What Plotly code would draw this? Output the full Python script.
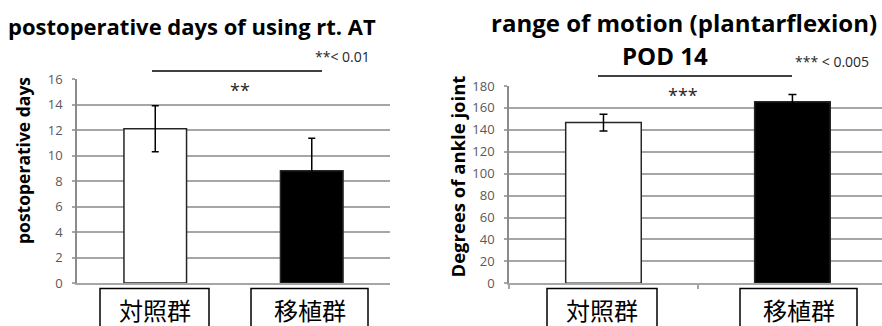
import plotly.graph_objects as go

# Group labels
groups = ["対照群", "移植群"]

# Postoperative days of using rt. AT (mean, SD)
days_mean = [12.1, 8.8]
days_sd = [1.8, 2.55]

# Range of motion (plantarflexion) at POD 14 (mean, SD)
rom_mean = [146.6, 165.7]
rom_sd = [7.7, 6.6]

bar_colors = ["white", "black"]
FONT = "Open Sans"
GRID = "#a6a6a6"
TICKFONT = dict(family=FONT, size=13, color="#595959")

W, H = 882, 326


def px(x):
    return x / W


def py(y):
    return 1 - y / H


fig = go.Figure()

fig.add_trace(go.Bar(
    x=[0, 1], y=days_mean, xaxis="x", yaxis="y",
    marker=dict(color=bar_colors, line=dict(color="#262626", width=1.5)),
    error_y=dict(type="data", array=days_sd, color="black", thickness=1.5, width=3.5),
    width=0.4, showlegend=False,
))
fig.add_trace(go.Bar(
    x=[0, 1], y=rom_mean, xaxis="x2", yaxis="y2",
    marker=dict(color=bar_colors, line=dict(color="#262626", width=1.5)),
    error_y=dict(type="data", array=rom_sd, color="black", thickness=1.5, width=4),
    width=0.4, showlegend=False,
))

common_x = dict(showgrid=False, showticklabels=False, zeroline=False,
                showline=True, linecolor=GRID, linewidth=1.5)
common_y = dict(showgrid=True, gridcolor=GRID, gridwidth=1.5, zeroline=False,
                showline=True, linecolor="#8c8c8c", linewidth=1.5,
                ticks="outside", ticklen=3, tickcolor=GRID, tickwidth=1.5,
                ticklabelstandoff=7, tickfont=TICKFONT)

fig.update_layout(
    width=W, height=H,
    margin=dict(l=0, r=0, t=0, b=0, autoexpand=False),
    paper_bgcolor="white", plot_bgcolor="white",
    font=dict(family=FONT, color="black"),
    xaxis=dict(domain=[px(77), px(390)], range=[-0.5, 1.5], anchor="y", **common_x),
    yaxis=dict(domain=[py(283), py(79)], range=[0, 16], dtick=2, anchor="x", **common_y),
    xaxis2=dict(domain=[px(509), 1.0], range=[-0.5, 1.474], anchor="y2",
                ticks="outside", ticklen=4, tickcolor=GRID, tickwidth=1.5,
                tickmode="array", tickvals=[-0.5, 0.5], **common_x),
    yaxis2=dict(domain=[py(283.3), py(86)], range=[0, 180], dtick=20, anchor="x2", **common_y),
)


def note(text, x, y, size, color="black", family=FONT, **kw):
    return dict(text=text, xref="paper", yref="paper", x=px(x), y=py(y),
                xanchor="center", yanchor="middle", showarrow=False,
                font=dict(size=size, family=family, color=color), **kw)


ann = [
    # Titles
    note("<b>postoperative days of using rt. AT</b>", 192, 26, 22),
    note("<b>range of motion (plantarflexion)</b>", 684, 22, 24),
    note("<b>POD 14</b>", 665, 55, 24),
    # Axis titles
    note("<b>postoperative days</b>", 23, 161, 17.5, textangle=-90),
    note("<b>Degrees of ankle joint</b>", 457, 176.5, 18.5, textangle=-90),
    # Significance notes
    note("**< 0.01", 342, 56, 14, color="#262626"),
    note("**", 240, 90, 18, color="#262626"),
    note("*** < 0.005", 832, 61, 14, color="#262626"),
    note("***", 683, 95, 18, color="#262626"),
]

# Group names, centred in their boxes
box_spans = [((100, 209), (251, 368)), ((547, 657), (740, 857))]
for spans in box_spans:
    for g, (x0, x1) in zip(groups, spans):
        ann.append(note(g, (x0 + x1) / 2, 309, 24, family="Noto Sans CJK JP"))
        fig.add_shape(type="rect", xref="paper", yref="paper",
                      x0=px(x0), x1=px(x1), y0=py(340), y1=py(288.5),
                      line=dict(color="black", width=1.5), fillcolor="rgba(0,0,0,0)")

fig.update_layout(annotations=ann)

# Significance brackets
fig.add_shape(type="line", xref="paper", yref="paper", x0=px(152), x1=px(322),
              y0=py(71), y1=py(71), line=dict(color="#404040", width=2))
fig.add_shape(type="line", xref="paper", yref="paper", x0=px(598), x1=px(792),
              y0=py(76), y1=py(76), line=dict(color="#404040", width=2))

fig.write_html("out.html")
